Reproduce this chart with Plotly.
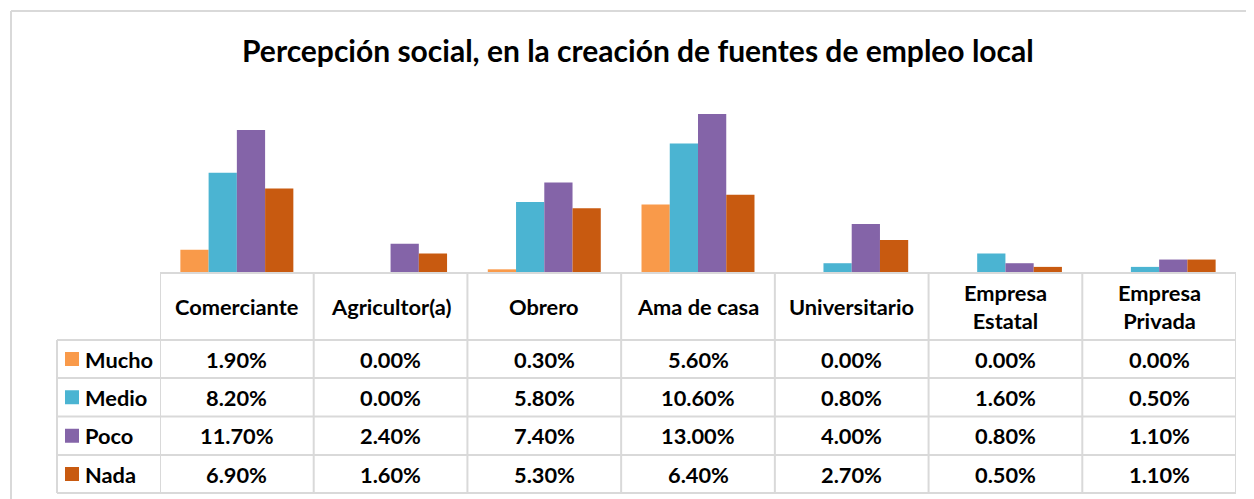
import plotly.graph_objects as go

# data
categories = ["Comerciante", "Agricultor(a)", "Obrero", "Ama de casa",
              "Universitario", "Empresa Estatal", "Empresa Privada"]
header_labels = ["Comerciante", "Agricultor(a)", "Obrero", "Ama de casa",
                 "Universitario", "Empresa<br>Estatal", "Empresa<br>Privada"]
series_names = ["Mucho", "Medio", "Poco", "Nada"]
mucho = [1.9, 0.0, 0.3, 5.6, 0.0, 0.0, 0.0]
medio = [8.2, 0.0, 5.8, 10.6, 0.8, 1.6, 0.5]
poco = [11.7, 2.4, 7.4, 13.0, 4.0, 0.8, 1.1]
nada = [6.9, 1.6, 5.3, 6.4, 2.7, 0.5, 1.1]
series_values = [mucho, medio, poco, nada]
colors = ["#F99A4A", "#4BB4D2", "#8464A8", "#C85A10"]

# the page body has an 8px margin, so the figure is shrunk and shifted
OFF = 8
W, H = 1254 - OFF, 499 - OFF
FONT = "Lato"
GRID = "#D9D9D9"

def px(x):
    return (x - OFF) / W

def py(y):
    return 1 - (y - OFF) / H

# layout in screen pixels
plot_left, plot_right = 160, 1236
base_y, top_y = 273, 101.8
head_bottom = 340
row_lines = [340, 378, 416.5, 455, 493]
legend_left = 57

fig = go.Figure()
for name, vals, col in zip(series_names, series_values, colors):
    fig.add_trace(go.Bar(
        x=categories, y=[v / 100 for v in vals], name=name,
        marker=dict(color=col, line=dict(width=0)),
        hovertemplate="%{x}<br>" + name + ": %{y:.2%}<extra></extra>",
    ))

shapes = []
line = dict(color=GRID, width=2)
# outer frame (left + top)
shapes.append(dict(type="line", xref="paper", yref="paper",
                   x0=px(11), x1=px(11), y0=0, y1=py(11), line=line))
shapes.append(dict(type="line", xref="paper", yref="paper",
                   x0=px(11), x1=1, y0=py(11), y1=py(11), line=line))
# table horizontal lines
shapes.append(dict(type="line", xref="paper", yref="paper",
                   x0=px(plot_left), x1=px(plot_right),
                   y0=py(base_y), y1=py(base_y), line=line))
for ry in row_lines:
    shapes.append(dict(type="line", xref="paper", yref="paper",
                       x0=px(legend_left), x1=px(plot_right),
                       y0=py(ry), y1=py(ry), line=line))
# table vertical lines
for i in range(len(categories) + 1):
    shapes.append(dict(type="line", xref="x", yref="paper",
                       x0=i - 0.5, x1=i - 0.5,
                       y0=py(row_lines[-1]), y1=py(base_y), line=line))
shapes.append(dict(type="line", xref="paper", yref="paper",
                   x0=px(legend_left), x1=px(legend_left),
                   y0=py(row_lines[-1]), y1=py(head_bottom), line=line))

annotations = []
tfont = dict(family=FONT, size=21.8, color="#000000", weight="bold")
# header row
for cat, lab in zip(categories, header_labels):
    annotations.append(dict(x=cat, xref="x", yref="paper",
                            y=py((base_y + head_bottom) / 2), text=lab,
                            showarrow=False, font=tfont, align="center",
                            xanchor="center", yanchor="middle"))
# value rows with legend keys
for r, (name, vals, col) in enumerate(zip(series_names, series_values, colors)):
    yc = (row_lines[r] + row_lines[r + 1]) / 2
    shapes.append(dict(type="rect", xref="paper", yref="paper",
                       x0=px(65), x1=px(79), y0=py(yc + 7), y1=py(yc - 7),
                       fillcolor=col, line=dict(width=0)))
    annotations.append(dict(x=px(83), xref="paper", yref="paper", y=py(yc),
                            text=name, showarrow=False, font=tfont,
                            xanchor="left", yanchor="middle"))
    for cat, v in zip(categories, vals):
        annotations.append(dict(x=cat, xref="x", yref="paper", y=py(yc),
                                text=f"{v:.2f}%", showarrow=False, font=tfont,
                                xanchor="center", yanchor="middle"))

# title
annotations.append(dict(x=px(637.5), y=py(50), xref="paper", yref="paper",
                        text="Percepción social, en la creación de fuentes de empleo local",
                        showarrow=False, xanchor="center", yanchor="middle",
                        font=dict(family=FONT, size=30, color="#000000", weight="bold")))

fig.update_layout(
    width=W, height=H,
    margin=dict(l=0, r=0, t=0, b=0),
    paper_bgcolor="white", plot_bgcolor="white",
    barmode="group", bargap=0.265, bargroupgap=0,
    showlegend=False,
    xaxis=dict(domain=[px(plot_left), px(plot_right)], range=[-0.5, 6.5],
               visible=False, type="category"),
    yaxis=dict(domain=[py(base_y), py(top_y)], range=[0, 0.14], visible=False),
    shapes=shapes,
    annotations=annotations,
)

fig.write_html("out.html")
